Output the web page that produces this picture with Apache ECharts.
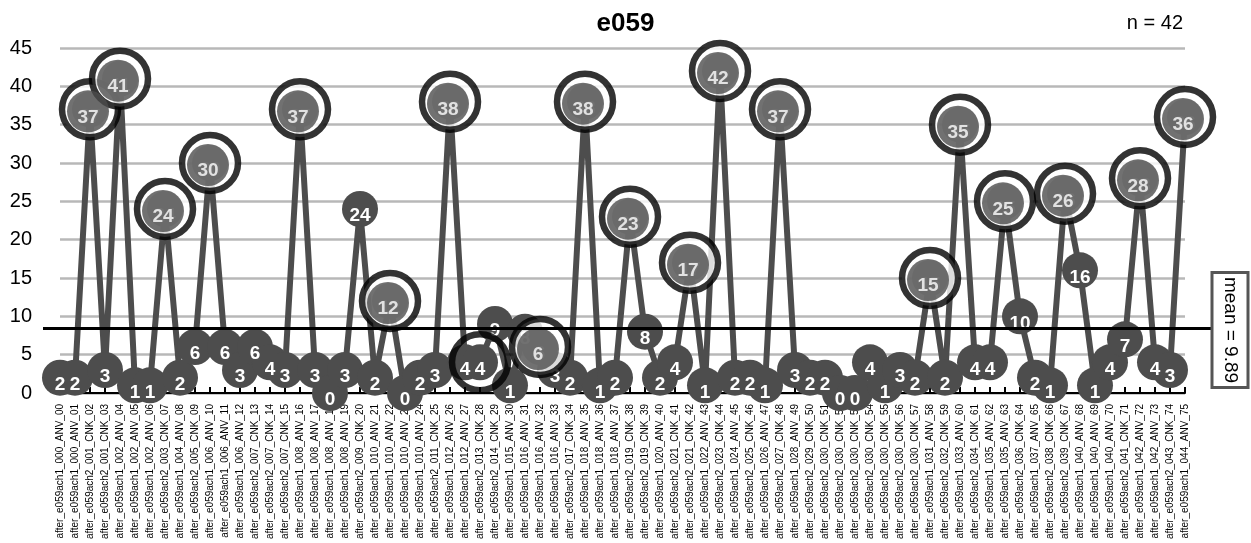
<!DOCTYPE html>
<html>
<head>
<meta charset="utf-8">
<script src="https://cdn.jsdelivr.net/npm/echarts@6/dist/echarts.min.js"></script>
<style>
  html, body { margin: 0; padding: 0; background: #fff; }
  #main { width: 1251px; height: 543px; }
</style>
</head>
<body>
<div id="main"></div>
<script>
// categories (x axis)
var categories = [
  'after_e059ach1_000_ANV_00', 'after_e059ach1_000_ANV_01', 'after_e059ach2_001_CNK_02', 'after_e059ach2_001_CNK_03',
  'after_e059ach1_002_ANV_04', 'after_e059ach1_002_ANV_05', 'after_e059ach1_002_ANV_06', 'after_e059ach2_003_CNK_07',
  'after_e059ach1_004_ANV_08', 'after_e059ach2_005_CNK_09', 'after_e059ach1_006_ANV_10', 'after_e059ach1_006_ANV_11',
  'after_e059ach1_006_ANV_12', 'after_e059ach2_007_CNK_13', 'after_e059ach2_007_CNK_14', 'after_e059ach2_007_CNK_15',
  'after_e059ach1_008_ANV_16', 'after_e059ach1_008_ANV_17', 'after_e059ach1_008_ANV_18', 'after_e059ach1_008_ANV_19',
  'after_e059ach2_009_CNK_20', 'after_e059ach1_010_ANV_21', 'after_e059ach1_010_ANV_22', 'after_e059ach1_010_ANV_23',
  'after_e059ach1_010_ANV_24', 'after_e059ach2_011_CNK_25', 'after_e059ach1_012_ANV_26', 'after_e059ach1_012_ANV_27',
  'after_e059ach2_013_CNK_28', 'after_e059ach2_014_CNK_29', 'after_e059ach1_015_ANV_30', 'after_e059ach1_016_ANV_31',
  'after_e059ach1_016_ANV_32', 'after_e059ach1_016_ANV_33', 'after_e059ach2_017_CNK_34', 'after_e059ach1_018_ANV_35',
  'after_e059ach1_018_ANV_36', 'after_e059ach1_018_ANV_37', 'after_e059ach2_019_CNK_38', 'after_e059ach2_019_CNK_39',
  'after_e059ach1_020_ANV_40', 'after_e059ach2_021_CNK_41', 'after_e059ach2_021_CNK_42', 'after_e059ach1_022_ANV_43',
  'after_e059ach2_023_CNK_44', 'after_e059ach1_024_ANV_45', 'after_e059ach2_025_CNK_46', 'after_e059ach1_026_ANV_47',
  'after_e059ach2_027_CNK_48', 'after_e059ach1_028_ANV_49', 'after_e059ach2_029_CNK_50', 'after_e059ach2_030_CNK_51',
  'after_e059ach2_030_CNK_52', 'after_e059ach2_030_CNK_53', 'after_e059ach2_030_CNK_54', 'after_e059ach2_030_CNK_55',
  'after_e059ach2_030_CNK_56', 'after_e059ach2_030_CNK_57', 'after_e059ach1_031_ANV_58', 'after_e059ach2_032_CNK_59',
  'after_e059ach1_033_ANV_60', 'after_e059ach2_034_CNK_61', 'after_e059ach1_035_ANV_62', 'after_e059ach1_035_ANV_63',
  'after_e059ach2_036_CNK_64', 'after_e059ach1_037_ANV_65', 'after_e059ach2_038_CNK_66', 'after_e059ach2_039_CNK_67',
  'after_e059ach1_040_ANV_68', 'after_e059ach1_040_ANV_69', 'after_e059ach1_040_ANV_70', 'after_e059ach2_041_CNK_71',
  'after_e059ach1_042_ANV_72', 'after_e059ach1_042_ANV_73', 'after_e059ach2_043_CNK_74', 'after_e059ach1_044_ANV_75'
];

// counts per category
var counts = [
  2, 2, 37, 3, 41, 1, 1, 24, 2, 6,
  30, 6, 3, 6, 4, 3, 37, 3, 0, 3,
  24, 2, 12, 0, 2, 3, 38, 4, 4, 9,
  1, 8, 6, 3, 2, 38, 1, 2, 23, 8,
  2, 4, 17, 1, 42, 2, 2, 1, 37, 3,
  2, 2, 0, 0, 4, 1, 3, 2, 15, 2,
  35, 4, 4, 25, 10, 2, 1, 26, 16, 1,
  4, 7, 28, 4, 3, 36
];

// points with a black ring around them
var ringedIdx = [2, 4, 7, 10, 16, 22, 26, 28, 32, 35, 38, 42, 44, 48, 58, 60, 63, 67, 72, 75];
// ring that lets the points inside show through
var openRing = [28];

var yTicks = [0, 5, 10, 15, 20, 25, 30, 35, 40, 45];
var meanLineAt = 8.4;   // where the mean line sits in the picture
var nText = 'n = 42';

var sum = 0;
for (var i = 0; i < counts.length; i++) sum += counts[i];
var meanText = 'mean = ' + (sum / counts.length).toFixed(2);

var FONT = 'Liberation Sans, Arial, Helvetica, sans-serif';
var GRAY = '#4d4d4d';

var ringData = ringedIdx.map(function (i) {
  var d = { value: [i, counts[i]] };
  if (openRing.indexOf(i) >= 0) d.itemStyle = { color: 'rgba(0,0,0,0)' };
  return d;
});
var topData = ringedIdx.filter(function (i) {
  return openRing.indexOf(i) < 0;
}).map(function (i) {
  return [i, counts[i]];
});

var myChart = echarts.init(document.getElementById('main'));
var option = {
  backgroundColor: '#fff',
  animation: false,
  title: [
    {
      text: 'e059',
      left: 'center',
      top: 6,
      textStyle: { fontSize: 26, fontWeight: 'bold', color: '#000', fontFamily: FONT }
    },
    {
      text: nText,
      right: 63,
      top: 8,
      textStyle: { fontSize: 20, fontWeight: 'normal', color: '#000', fontFamily: FONT }
    }
  ],
  grid: [
    { left: 60, right: 66, top: 48, bottom: 150 },
    { left: 43, right: 38, top: 48, bottom: 150 }
  ],
  xAxis: [
    {
      type: 'category',
      data: categories,
      boundaryGap: false,
      axisLine: { lineStyle: { color: '#000', width: 2 } },
      axisTick: { inside: true, length: 6, interval: 0, lineStyle: { color: '#000', width: 2 } },
      axisLabel: { rotate: 90, interval: 0, fontSize: 10, color: '#000', margin: 11, fontFamily: FONT },
      splitLine: { show: false }
    },
    { gridIndex: 1, type: 'value', min: 0, max: 1, show: false }
  ],
  yAxis: [
    {
      type: 'value',
      min: yTicks[0],
      max: yTicks[yTicks.length - 1],
      interval: yTicks[1] - yTicks[0],
      axisLine: { show: false },
      axisTick: { show: false },
      axisLabel: { fontSize: 20, color: '#000', margin: 28, fontFamily: FONT },
      splitLine: { lineStyle: { color: '#b8b8b8', width: 2.5 } }
    },
    {
      gridIndex: 1, type: 'value',
      min: yTicks[0], max: yTicks[yTicks.length - 1],
      show: false, splitLine: { show: false }
    }
  ],
  graphic: [
    {
      type: 'text',
      x: 1230,
      y: 330,
      rotation: -Math.PI / 2,
      z: 10,
      style: {
        text: meanText,
        font: '19px ' + FONT,
        fill: '#000',
        align: 'center',
        verticalAlign: 'middle',
        backgroundColor: '#fff',
        borderColor: '#555',
        borderWidth: 3,
        padding: [7, 3]
      }
    }
  ],
  series: [
    {
      name: 'count',
      type: 'line',
      data: counts,
      z: 2,
      symbol: 'circle',
      symbolSize: 36,
      showAllSymbol: true,
      lineStyle: { color: GRAY, width: 6 },
      itemStyle: { color: GRAY },
      label: {
        show: true, position: 'inside', offset: [0, 7],
        color: '#fff', fontWeight: 'bold', fontSize: 19, fontFamily: FONT
      }
    },
    {
      name: 'ring',
      type: 'scatter',
      data: ringData,
      z: 3,
      symbol: 'circle',
      symbolSize: 56,
      itemStyle: { color: '#fff', borderColor: '#000', borderWidth: 6.5 },
      silent: true
    },
    {
      name: 'top',
      type: 'scatter',
      data: topData,
      z: 4,
      symbol: 'circle',
      symbolSize: 42,
      symbolOffset: [-2, 2],
      itemStyle: { color: GRAY },
      label: {
        show: true, position: 'inside', offset: [0, 6],
        color: '#fff', fontWeight: 'bold', fontSize: 19, fontFamily: FONT,
        formatter: function (p) { return p.value[1]; }
      },
      silent: true
    },
    {
      name: 'mean',
      type: 'line',
      xAxisIndex: 1,
      yAxisIndex: 1,
      data: [],
      z: 5,
      markLine: {
        silent: true,
        symbol: 'none',
        label: { show: false },
        lineStyle: { color: '#000', width: 3, type: 'solid' },
        data: [{ yAxis: meanLineAt }]
      }
    }
  ]
};
myChart.setOption(option);
</script>
</body>
</html>
